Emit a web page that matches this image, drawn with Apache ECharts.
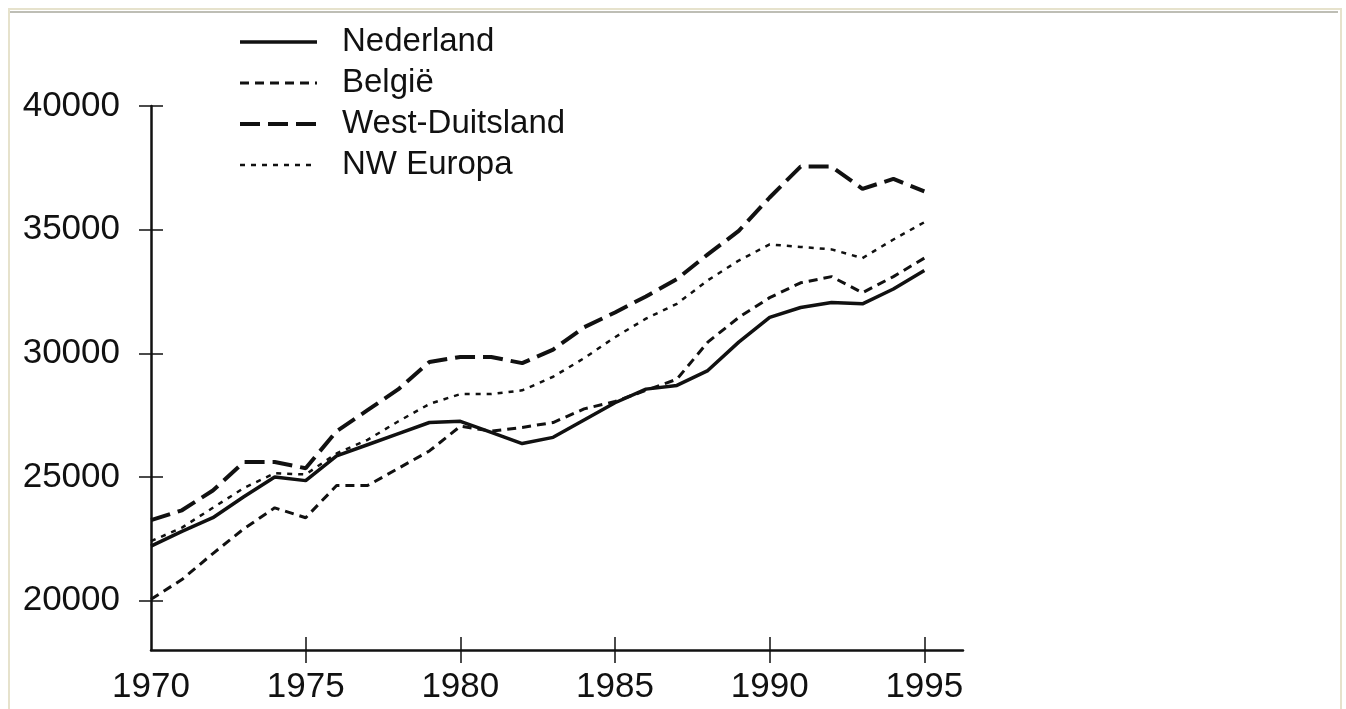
<!DOCTYPE html>
<html>
<head>
<meta charset="utf-8">
<script src="https://cdn.jsdelivr.net/npm/echarts@6/dist/echarts.min.js"></script>
<style>
html,body{margin:0;padding:0;background:#fff;}
#chart{width:1346px;height:709px;}
</style>
</head>
<body>
<div id="chart"></div>
<script>
const years = [1970,1971,1972,1973,1974,1975,1976,1977,1978,1979,1980,1981,1982,1983,1984,1985,1986,1987,1988,1989,1990,1991,1992,1993,1994,1995];
const nederland = [22200,22800,23350,24200,25000,24850,25850,26300,26750,27200,27250,26800,26350,26600,27300,28000,28550,28700,29300,30450,31450,31850,32050,32000,32600,33350];
const belgie = [20050,20850,21900,22900,23750,23350,24650,24650,25350,26050,27050,26850,27000,27200,27750,28050,28500,28950,30450,31450,32250,32850,33100,32450,33100,33850];
const westDuitsland = [23250,23650,24450,25600,25600,25350,26850,27700,28550,29650,29850,29850,29600,30150,31050,31650,32300,33000,34000,34950,36300,37550,37550,36650,37050,36550];
const nwEuropa = [22400,22950,23750,24550,25150,25100,25950,26500,27250,27950,28350,28350,28500,29050,29800,30650,31400,32000,32950,33750,34400,34300,34200,33850,34600,35300];
const seriesNames = ['Nederland','België','West-Duitsland','NW Europa'];
const xTickValues = [1975,1980,1985,1990,1995];
const xLabelValues = [1970,1975,1980,1985,1990,1995];
const yTickValues = [20000,25000,30000,35000,40000];

const FONT = "'Liberation Sans', Arial, Helvetica, sans-serif";
const INK = '#111';
const styles = [
  {width:3.5, type:'solid'},
  {width:3, type:[9,6]},
  {width:4, type:[20,8]},
  {width:2.5, type:[5,6]}
];

function pairs(vals){ return years.map((y,i)=>[y, vals[i]]); }

const chart = echarts.init(document.getElementById('chart'), null, {renderer:'canvas'});
const baseX = {type:'value', min:1970, max:1996.25, gridIndex:0, splitLine:{show:false}};
const baseY = {type:'value', min:18000, max:40000, gridIndex:0, splitLine:{show:false}};
const seriesData = [nederland, belgie, westDuitsland, nwEuropa];

chart.setOption({
  backgroundColor:'#fff',
  animation:false,
  graphic:[
    {type:'rect', shape:{x:9,y:9,width:1332,height:720}, style:{fill:'none', stroke:'#e6e2cc', lineWidth:2}, z:-1},
    {type:'line', shape:{x1:10,y1:12,x2:1338,y2:12}, style:{stroke:'#a8a89c', lineWidth:1.5}, z:-1}
  ],
  grid:{left:151, top:106, right:383, bottom:59, containLabel:false},
  legend:{
    orient:'vertical', left:238, top:24, padding:0,
    itemWidth:77, itemHeight:20, itemGap:5,
    itemStyle:{opacity:0},
    textStyle:{fontFamily:FONT, fontSize:33, color:INK, lineHeight:36, padding:[0,0,0,20]},
    data:seriesNames.map((n,i)=>({name:n, lineStyle:{color:INK, width:styles[i].width, type:styles[i].type}}))
  },
  xAxis:[
    Object.assign({}, baseX, {
      position:'bottom',
      axisLine:{show:true, lineStyle:{color:INK, width:2.5}},
      axisTick:{show:true, inside:false, length:13, customValues:xTickValues, lineStyle:{color:INK, width:1.5}},
      axisLabel:{show:true, margin:20, customValues:xLabelValues, fontFamily:FONT, fontSize:35, color:INK, formatter:v=>String(v)}
    }),
    Object.assign({}, baseX, {
      position:'bottom', offset:0,
      axisLine:{show:false},
      axisTick:{show:true, inside:true, length:13, customValues:xTickValues, lineStyle:{color:INK, width:1.5}},
      axisLabel:{show:false}
    })
  ],
  yAxis:[
    Object.assign({}, baseY, {
      position:'left',
      axisLine:{show:true, lineStyle:{color:INK, width:2.5}},
      axisTick:{show:true, inside:false, length:12, customValues:yTickValues, lineStyle:{color:INK, width:1.5}},
      axisLabel:{show:true, margin:31, customValues:yTickValues, fontFamily:FONT, fontSize:35, color:INK, formatter:v=>String(v)}
    }),
    Object.assign({}, baseY, {
      position:'left', offset:0,
      axisLine:{show:false},
      axisTick:{show:true, inside:true, length:12, customValues:yTickValues, lineStyle:{color:INK, width:1.5}},
      axisLabel:{show:false}
    })
  ],
  series:seriesNames.map((n,i)=>({
    name:n, type:'line', data:pairs(seriesData[i]), showSymbol:false, symbol:'none', color:INK,
    lineStyle:{color:INK, width:styles[i].width, type:styles[i].type}
  }))
});
</script>
</body>
</html>
